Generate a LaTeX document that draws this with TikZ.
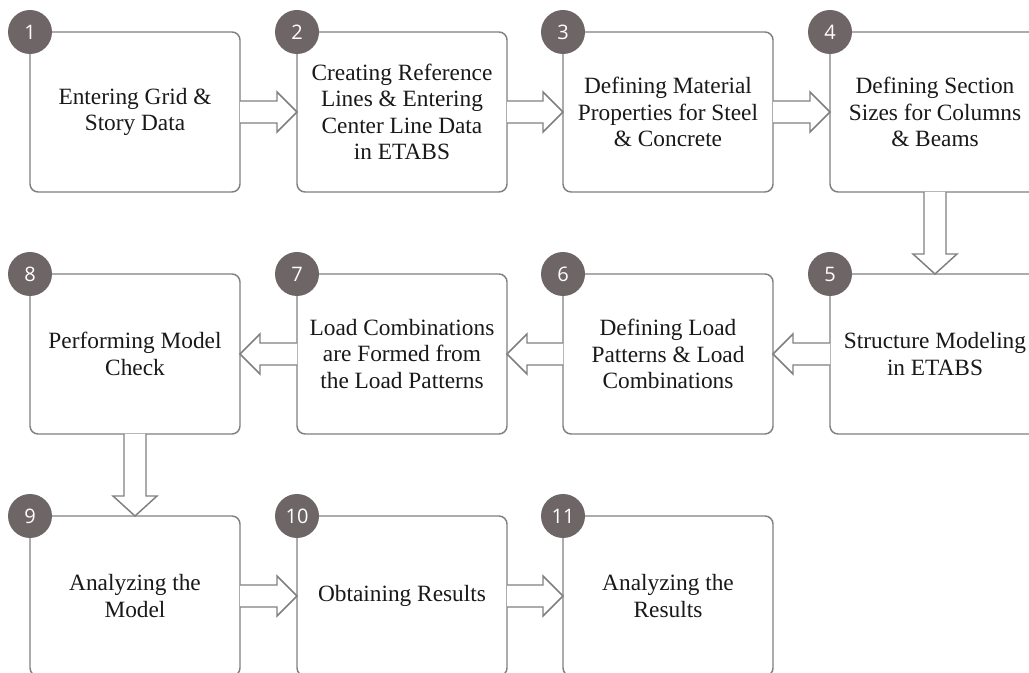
\documentclass[tikz,border=0pt]{standalone}
\usepackage{fontspec}
\setmainfont{Liberation Serif}
\newfontfamily\badgefont{Open Sans}
\usetikzlibrary{calc}
\definecolor{edgegray}{RGB}{128,128,128}
\definecolor{badgegray}{RGB}{110,102,102}
\tikzset{
  stepbox/.style={draw=edgegray, line width=1.1pt, rounded corners=6pt, fill=white,
    minimum width=157.5pt, minimum height=120pt, inner sep=2pt, outer sep=0pt,
    align=center, font=\fontsize{17.5}{19.7}\selectfont, text=black!90},
  badgenode/.style={circle, fill=badgegray, text=white, minimum size=33pt, inner sep=0pt,
    font=\badgefont\fontsize{15}{15}\selectfont},
  blk/.style={draw=edgegray, line width=1.1pt, fill=white, line join=miter},
}
\newcommand\rarr[2]{\draw[blk] ($(#1.east)+(0,-11)$) -- ($(#2.west)+(-20,-11)$) -- ($(#2.west)+(-20,-20)$) -- (#2.west) -- ($(#2.west)+(-20,20)$) -- ($(#2.west)+(-20,11)$) -- ($(#1.east)+(0,11)$);}
\newcommand\larr[2]{\draw[blk] ($(#1.west)+(0,-11)$) -- ($(#2.east)+(20,-11)$) -- ($(#2.east)+(20,-20)$) -- (#2.east) -- ($(#2.east)+(20,20)$) -- ($(#2.east)+(20,11)$) -- ($(#1.west)+(0,11)$);}
\newcommand\darr[2]{\draw[blk] ($(#1.south)+(-11,0)$) -- ($(#2.north)+(-11,-20)$) -- ($(#2.north)+(-22,-20)$) -- (#2.north) -- ($(#2.north)+(22,-20)$) -- ($(#2.north)+(11,-20)$) -- ($(#1.south)+(11,0)$);}
\begin{document}
\begin{tikzpicture}[x=0.75pt,y=-0.75pt]
\clip (0,0) rectangle (1029,673);
\fill[white] (0,0) rectangle (1029,673);
% row 1
\node[stepbox] (s1) at (135,112) {Entering Grid \&\\Story Data};
\node[stepbox] (s2) at (402,112) {Creating Reference\\Lines \& Entering\\Center Line Data\\in ETABS};
\node[stepbox] (s3) at (668,112) {Defining Material\\Properties for Steel\\\& Concrete};
\node[stepbox] (s4) at (935,112) {Defining Section\\Sizes for Columns\\\& Beams};
% row 2
\node[stepbox] (s5) at (935,354) {Structure Modeling\\in ETABS};
\node[stepbox] (s6) at (668,354) {Defining Load\\Patterns \& Load\\Combinations};
\node[stepbox] (s7) at (402,354) {Load Combinations\\are Formed from\\the Load Patterns};
\node[stepbox] (s8) at (135,354) {Performing Model\\Check};
% row 3
\node[stepbox] (s9) at (135,596) {Analyzing the\\Model};
\node[stepbox] (s10) at (402,596) {Obtaining Results};
\node[stepbox] (s11) at (668,596) {Analyzing the\\Results};
% badges
\foreach \i in {1,...,11} {\node[badgenode] (b\i) at (s\i.north west) {\i};}
% connectors
\rarr{s1}{s2}
\rarr{s2}{s3}
\rarr{s3}{s4}
\darr{s4}{s5}
\larr{s5}{s6}
\larr{s6}{s7}
\larr{s7}{s8}
\darr{s8}{s9}
\rarr{s9}{s10}
\rarr{s10}{s11}
\end{tikzpicture}
\end{document}
